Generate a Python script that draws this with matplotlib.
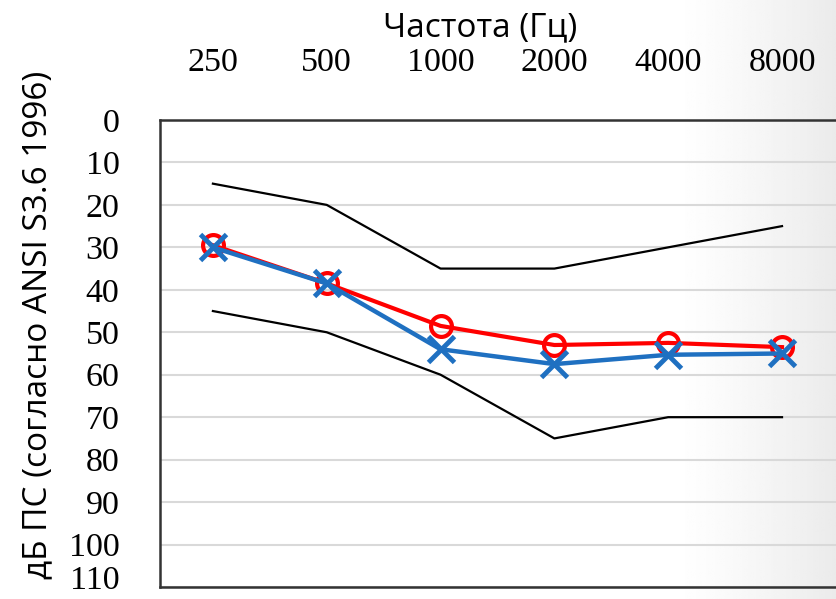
import numpy as np
import matplotlib.pyplot as plt
from matplotlib.transforms import ScaledTranslation

# Audiogram data (dB HL)
freqs = ['250', '500', '1000', '2000', '4000', '8000']
upper_norm = [15, 20, 35, 35, 30, 25]
lower_norm = [45, 50, 60, 75, 70, 70]
right_ear = [29.5, 38.5, 48.5, 53, 52.5, 53.5]   # red circles
left_ear = [30, 38.5, 54, 57.5, 55.3, 55]        # blue crosses
y_ticks = list(range(0, 111, 10))

fig = plt.figure(figsize=(8.37, 5.99), dpi=100)

# soft grey shading at the right edge, as in the original slide
bg = fig.add_axes([0, 0, 1, 1], zorder=-1)
grad = np.clip((np.linspace(0, 1, 400) - 0.80) / 0.20, 0, 1) ** 1.3
img = 1 - 0.08 * grad
bg.imshow(np.tile(img, (10, 1)), cmap='gray', vmin=0, vmax=1,
          aspect='auto', extent=[0, 1, 0, 1])
bg.axis('off')

ax = fig.add_axes([0.191, 0.020, 0.809, 0.7797])
ax.patch.set_alpha(0)
x = np.arange(len(freqs))

ax.plot(x, upper_norm, color='black', lw=1.6)
ax.plot(x, lower_norm, color='black', lw=1.6)
ax.plot(x, right_ear, color='#ff0000', lw=3, marker='o', ms=15,
        mfc='none', mec='#ff0000', mew=3, zorder=3)
ax.plot(x, left_ear, color='#1f70c1', lw=3.2, marker='x', ms=19,
        mew=3.5, zorder=4)

ax.set_xlim(-0.466, 5.483)
ax.set_ylim(110, 0)
ax.set_yticks(y_ticks)
ax.set_xticks(x)
ax.set_xticklabels(freqs)
ax.xaxis.tick_top()
ax.tick_params(length=0, labelsize=24.5)
ax.tick_params(axis='y', pad=29)
ax.tick_params(axis='x', pad=30)
for lab in ax.get_xticklabels() + ax.get_yticklabels():
    lab.set_fontfamily('Liberation Serif')
# the last label sits a little higher so it stays inside the picture
last = ax.get_yticklabels()[-1]
last.set_transform(last.get_transform() + ScaledTranslation(0, 7 / 72, fig.dpi_scale_trans))

ax.grid(axis='y', color='#d9d9d9', lw=1.5)
ax.set_axisbelow(True)
for side in ['left', 'top', 'bottom']:
    ax.spines[side].set_linewidth(1.8)
    ax.spines[side].set_color('#333333')
ax.spines['right'].set_visible(False)

fig.text(480 / 837, 1 - 28 / 599, 'Частота (Гц)', fontsize=24,
         fontfamily='Open Sans', ha='center', va='center')
fig.text(38 / 837, 1 - 325 / 599, 'дБ ПС (согласно ANSI S3.6 1996)',
         fontsize=24, fontfamily='Open Sans', rotation=90,
         ha='center', va='center')

fig.savefig('out.png', dpi=100)
